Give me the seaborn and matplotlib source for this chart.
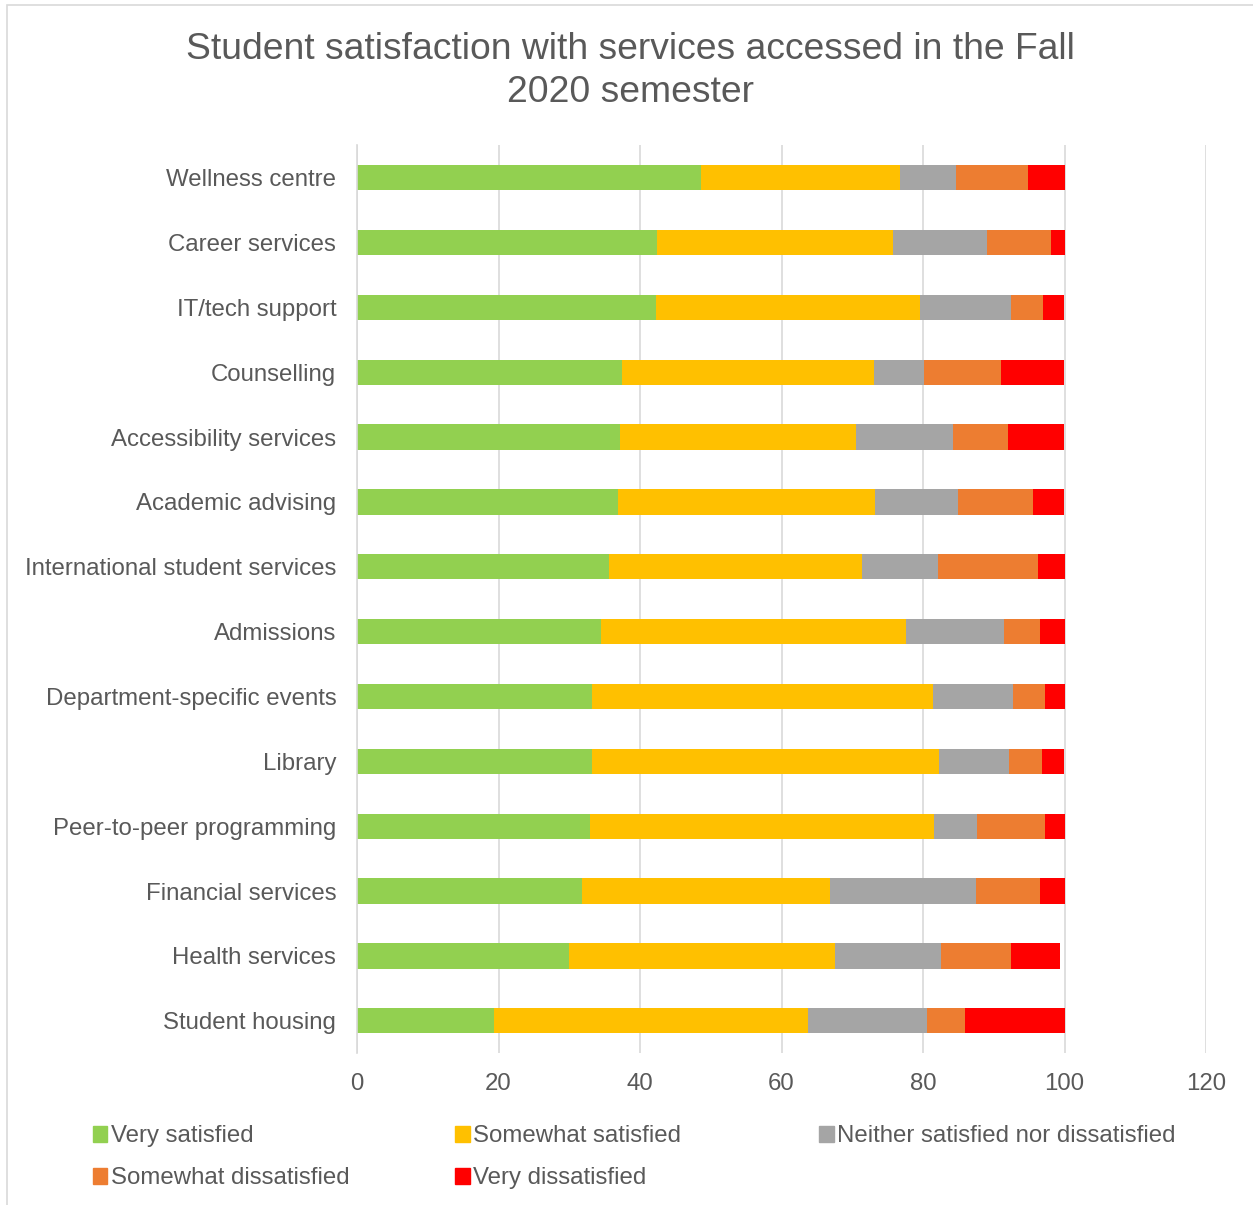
import matplotlib.pyplot as plt
import matplotlib.patches as mpatches
import numpy as np
import pandas as pd
import seaborn as sns

services = ['Wellness centre', 'Career services', 'IT/tech support', 'Counselling',
            'Accessibility services', 'Academic advising', 'International student services',
            'Admissions', 'Department-specific events', 'Library', 'Peer-to-peer programming',
            'Financial services', 'Health services', 'Student housing']

very_satisfied = [48.6, 42.4, 42.3, 37.5, 37.1, 36.9, 35.6, 34.5, 33.2, 33.2, 32.9, 31.8, 30.0, 19.4]
somewhat_satisfied = [28.2, 33.3, 37.2, 35.6, 33.4, 36.3, 35.8, 43.1, 48.2, 49.1, 48.7, 35.1, 37.5, 44.4]
neither = [7.8, 13.3, 13.0, 7.1, 13.8, 11.7, 10.7, 13.8, 11.3, 9.8, 6.0, 20.6, 15.0, 16.7]
somewhat_dissatisfied = [10.3, 9.1, 4.4, 10.8, 7.7, 10.7, 14.2, 5.2, 4.5, 4.7, 9.7, 9.1, 10.0, 5.5]
very_dissatisfied = [5.1, 2.0, 3.0, 8.9, 7.9, 4.3, 3.7, 3.4, 2.9, 3.1, 2.7, 3.4, 6.9, 14.0]

series = ['Very satisfied', 'Somewhat satisfied', 'Neither satisfied nor dissatisfied',
          'Somewhat dissatisfied', 'Very dissatisfied']
colors = ['#92D050', '#FFC000', '#A5A5A5', '#ED7D31', '#FF0000']

df = pd.DataFrame({
    'service': services,
    series[0]: very_satisfied,
    series[1]: somewhat_satisfied,
    series[2]: neither,
    series[3]: somewhat_dissatisfied,
    series[4]: very_dissatisfied,
})
cum = df[series].cumsum(axis=1)
cum['service'] = df['service']

plt.rcParams['font.family'] = ['Liberation Sans', 'DejaVu Sans']
text_color = '#595959'
fs = 17.3

fig = plt.figure(figsize=(12.53, 12.05), dpi=100)
ax = fig.add_axes([0.285, 0.126, 0.6775, 0.7535])

# stacked bars: draw cumulative totals from the outermost segment inward
for name, color in reversed(list(zip(series, colors))):
    sns.barplot(data=cum, x=name, y='service', color=color, orient='h',
                width=0.39, ax=ax, saturation=1, edgecolor='none', zorder=3)

ax.set_xlim(0, 120)
ax.set_ylim(13.5, -0.5)
ax.set_xticks(np.arange(0, 121, 20))
ax.set_xlabel('')
ax.set_ylabel('')
ax.grid(axis='x', color='#D9D9D9', linewidth=1.2, zorder=0)
ax.set_axisbelow(True)
for side in ['top', 'right', 'bottom']:
    ax.spines[side].set_visible(False)
ax.spines['left'].set_color('#D9D9D9')
ax.spines['left'].set_linewidth(1.2)
ax.spines['left'].set_zorder(4)
ax.tick_params(axis='both', length=0, labelsize=fs, colors=text_color)
ax.tick_params(axis='y', pad=15)
ax.tick_params(axis='x', pad=14)

fig.suptitle('Student satisfaction with services accessed in the Fall\n2020 semester',
             x=0.503, y=0.9737, fontsize=26.8, color=text_color, linespacing=1.31)

# legend: three columns of equal width, filled row by row
handles = [mpatches.Patch(color=c, label=s) for s, c in zip(series, colors)]
col_x = [0.074, 0.3635, 0.654]
for i, x in enumerate(col_x):
    leg = fig.legend(handles=handles[i::3], loc='upper left', bbox_to_anchor=(x, 0.066),
                     frameon=False, fontsize=fs, handlelength=0.6, handleheight=0.6,
                     handletextpad=0.15, labelspacing=0.83, borderpad=0,
                     borderaxespad=0, labelcolor=text_color)

# chart border (only top and left edges fall inside the image)
fig.add_artist(plt.Rectangle((0.0058, -0.01), 1.1, 1.0055, fill=False,
                             edgecolor='#D9D9D9', linewidth=1.2, transform=fig.transFigure))

fig.savefig('out.png', dpi=100)
